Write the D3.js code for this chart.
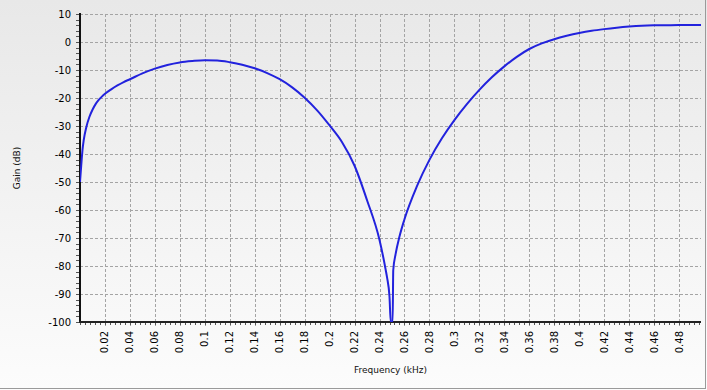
<!DOCTYPE html>
<html>
<head>
<meta charset="utf-8">
<script src="https://cdn.jsdelivr.net/npm/d3@7"></script>
<style>
  html, body { margin: 0; padding: 0; background: #fff; }
  svg { display: block; }
  .tick-label { font-family: "DejaVu Sans", sans-serif; font-size: 10px; fill: #000; }
  .axis-title { font-family: "DejaVu Sans", sans-serif; font-size: 9px; fill: #111; }
</style>
</head>
<body>
<svg id="chart" width="707" height="390"></svg>
<script>
(function() {
    // frequency (kHz) and gain (dB)
    var freq = [0, 0.001, 0.002, 0.003, 0.005, 0.0075, 0.01, 0.0125, 0.015, 0.0175,
        0.02, 0.025, 0.03, 0.035, 0.04, 0.05, 0.06, 0.07, 0.08, 0.09,
        0.1, 0.11, 0.12, 0.13, 0.14, 0.15, 0.16, 0.17, 0.18, 0.19,
        0.2, 0.21, 0.22, 0.23, 0.24, 0.245, 0.246, 0.248, 0.249, 0.25,
        0.2505, 0.251, 0.253, 0.256, 0.26, 0.27, 0.28, 0.29, 0.3, 0.31,
        0.32, 0.33, 0.34, 0.35, 0.36, 0.37, 0.38, 0.39, 0.4, 0.41,
        0.42, 0.43, 0.44, 0.45, 0.46, 0.47, 0.48, 0.49, 0.4976]
    var gain = [-50, -44, -38.5, -35, -30.5, -26.8, -24.2, -22.2, -20.7, -19.5,
        -18.5, -16.9, -15.5, -14.3, -13.3, -11.2, -9.5, -8.2, -7.3, -6.8,
        -6.5, -6.6, -7.2, -8.1, -9.4, -11.1, -13.3, -16.2, -19.9, -24.4,
        -29.8, -35.8, -44.2, -56.5, -70.7, -81.5, -84, -91, -100, -100,
        -100, -81.5, -75.5, -69.5, -63.3, -51.5, -42.1, -34.4, -27.9, -22.2,
        -17.1, -12.6, -8.7, -5.3, -2.5, -0.5, 1.0, 2.2, 3.2, 4.0,
        4.6, 5.1, 5.5, 5.8, 5.95, 6.0, 6.05, 6.05, 6.05]

    var xTicks = [0.02, 0.04, 0.06, 0.08, 0.1, 0.12, 0.14, 0.16, 0.18, 0.2, 0.22, 0.24,
        0.26, 0.28, 0.3, 0.32, 0.34, 0.36, 0.38, 0.4, 0.42, 0.44, 0.46, 0.48]
    var yTicks = [10, 0, -10, -20, -30, -40, -50, -60, -70, -80, -90, -100]

    var data = freq.map((f, i) => ({ f: f, g: gain[i] }))

    var left = 80, right = 701, top = 14, bottom = 322

    var x = d3.scaleLinear().domain([0, 0.4976]).range([left, right])
    var y = d3.scaleLinear().domain([-100, 10]).range([bottom, top])

    var svg = d3.select("#chart")

    // background gradient
    var grad = svg.append("defs").append("linearGradient")
        .attr("id", "bg").attr("x1", 0).attr("y1", 0).attr("x2", 0).attr("y2", 1)
    grad.append("stop").attr("offset", "0%").attr("stop-color", "#e8e8e8")
    grad.append("stop").attr("offset", "100%").attr("stop-color", "#fcfcfc")
    svg.select("defs").append("clipPath").attr("id", "plotclip")
        .append("rect").attr("x", left).attr("y", top - 2)
        .attr("width", right - left).attr("height", bottom - top + 2)

    svg.append("rect").attr("width", 707).attr("height", 390).attr("fill", "url(#bg)")

    // outer frame (right + bottom edge)
    svg.append("line").attr("x1", 705.5).attr("x2", 705.5).attr("y1", 0).attr("y2", 389)
        .attr("stroke", "#9a9a9a")
    svg.append("line").attr("x1", 0).attr("x2", 706).attr("y1", 388.5).attr("y2", 388.5)
        .attr("stroke", "#9a9a9a")

    //grid lines
    var grid = svg.append("g").attr("stroke", "#a4a4a4").attr("stroke-dasharray", "3,2")
        .attr("shape-rendering", "crispEdges")
    grid.selectAll(".hg").data(yTicks.filter(d => d > -100)).join("line")
        .attr("x1", left).attr("x2", right)
        .attr("y1", d => Math.round(y(d)) + 0.5).attr("y2", d => Math.round(y(d)) + 0.5)
    grid.selectAll(".vg").data(xTicks).join("line")
        .attr("x1", d => Math.round(x(d)) + 0.5).attr("x2", d => Math.round(x(d)) + 0.5)
        .attr("y1", top).attr("y2", bottom + 4)

    // minor ticks
    var minorY = d3.range(-100, 10.01, 2)
    svg.append("g").attr("stroke", "#555").attr("shape-rendering", "crispEdges")
        .selectAll("line").data(minorY).join("line")
        .attr("x1", left - 4).attr("x2", left)
        .attr("y1", d => Math.round(y(d)) + 0.5).attr("y2", d => Math.round(y(d)) + 0.5)
    var minorX = d3.range(0, 0.4976, 0.004)
    svg.append("g").attr("stroke", "#555").attr("shape-rendering", "crispEdges")
        .selectAll("line").data(minorX).join("line")
        .attr("x1", d => Math.round(x(d)) + 0.5).attr("x2", d => Math.round(x(d)) + 0.5)
        .attr("y1", bottom).attr("y2", bottom + 3)

    // axis lines
    svg.append("line").attr("x1", left).attr("x2", left).attr("y1", top - 1).attr("y2", bottom + 1)
        .attr("stroke", "#111").attr("stroke-width", 2)
    svg.append("line").attr("x1", left - 1).attr("x2", right).attr("y1", bottom).attr("y2", bottom)
        .attr("stroke", "#222").attr("stroke-width", 2)

    // tick labels
    svg.append("g").selectAll("text").data(yTicks).join("text")
        .attr("class", "tick-label")
        .attr("x", 71).attr("y", d => y(d)).attr("dy", "0.35em")
        .attr("text-anchor", "end")
        .text(d => d)
    svg.append("g").selectAll("text").data(xTicks).join("text")
        .attr("class", "tick-label")
        .attr("transform", d => `translate(${x(d)},331) rotate(-90)`)
        .attr("dy", "0.35em")
        .attr("text-anchor", "end")
        .text(d => d)

    // axis titles
    svg.append("text").attr("class", "axis-title")
        .attr("transform", `translate(17,${(top + bottom) / 2}) rotate(-90)`)
        .attr("text-anchor", "middle").attr("dy", "0.35em")
        .text("Gain (dB)")
    svg.append("text").attr("class", "axis-title")
        .attr("x", (left + right) / 2).attr("y", 373)
        .attr("text-anchor", "middle")
        .text("Frequency (kHz)")

    // response curve
    var line = d3.line().x(d => x(d.f)).y(d => y(d.g)).curve(d3.curveMonotoneX)
    svg.append("path").datum(data)
        .attr("clip-path", "url(#plotclip)")
        .attr("fill", "none")
        .attr("stroke", "#2222dd")
        .attr("stroke-width", 2)
        .attr("stroke-linejoin", "round")
        .attr("d", line)
})();
</script>
</body>
</html>
